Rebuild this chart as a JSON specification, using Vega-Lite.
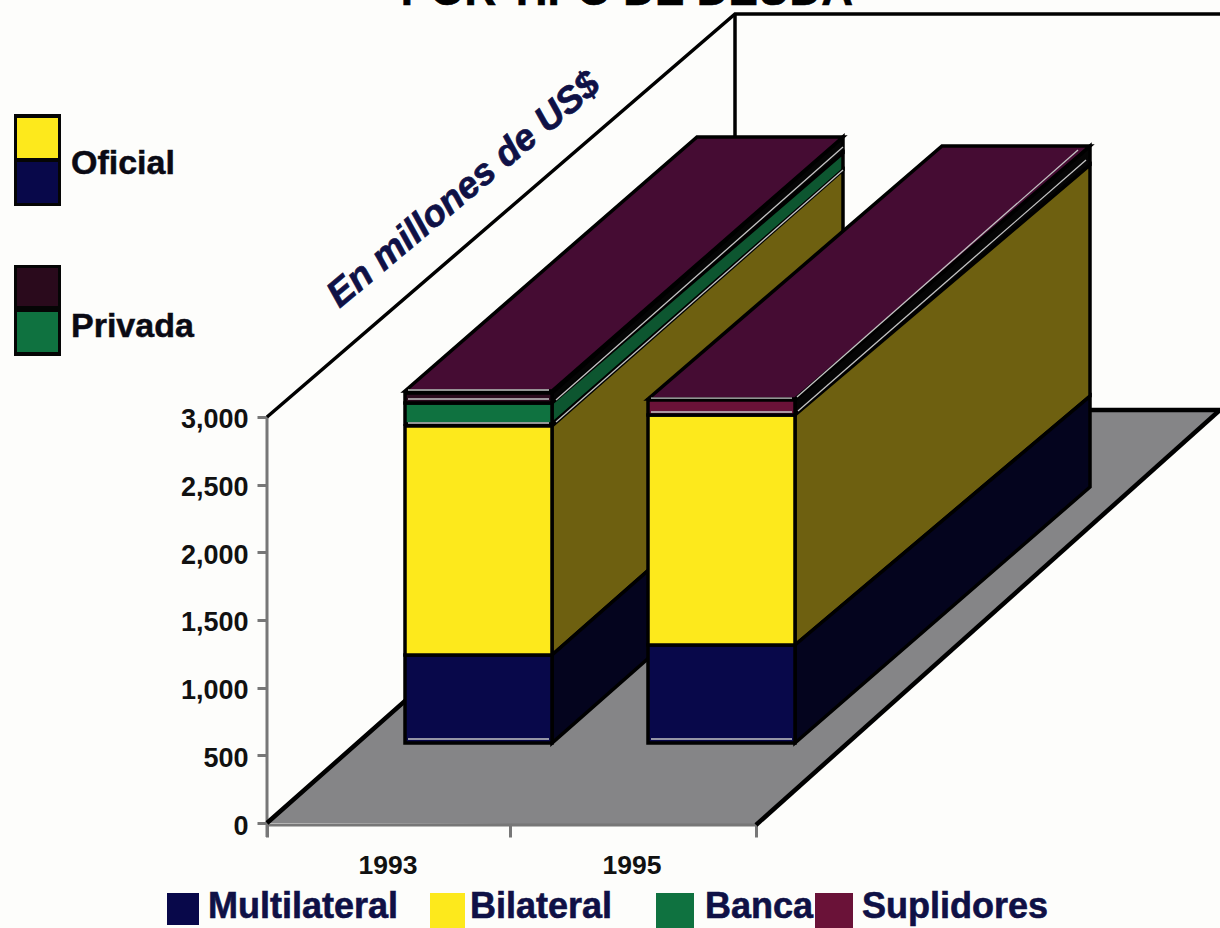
{
"$schema":"https://vega.github.io/schema/vega-lite/v6.json",
"width":1220,"height":928,"padding":0,"autosize":{"type":"none"},
"background":"#fdfdfb",
"config":{"view":{"stroke":null},"axis":{"grid":false,"title":null}},
"encoding":{
 "x":{"field":"x","type":"quantitative","scale":{"domain":[0,1220],"nice":false,"zero":false},
  "axis":{"values":[267,510,756],"labels":false,"offset":-103,"domain":false,"tickSize":12,"tickWidth":3,"tickColor":"#777777","title":null}},
 "y":{"field":"y","type":"quantitative","scale":{"domain":[-775.8,6081.1],"nice":false,"zero":false},
  "axis":{"values":[0,500,1000,1500,2000,2500,3000],"format":",.0f","offset":-267,"domain":false,"tickSize":10,"tickWidth":3,"tickColor":"#777777","labelFont":"Liberation Sans","labelFontWeight":"bold","labelFontSize":27,"labelColor":"#111111","labelPadding":9,"labelOffset":3,"title":null}}
},
"layer":[
{"data":{"values":[
 {"poly":"piso","x":267,"y":0,"y2":0},
 {"poly":"piso","x":734,"y":3051.7,"y2":-14.8},
 {"poly":"piso","x":756,"y":3051.7,"y2":-14.8},
 {"poly":"piso","x":1220,"y":3051.7,"y2":3051.7}]},
 "mark":{"type":"area","color":"#858587"},
 "encoding":{"y2":{"field":"y2"},"detail":{"field":"poly"}}},
{"data":{"values":[
 {"seg":"eje y","x":267,"y":3000},{"seg":"eje y","x":267.01,"y":-103},
 {"seg":"eje x","x":267,"y":-14.8},{"seg":"eje x","x":756,"y":-14.8}]},
 "mark":{"type":"line","color":"#777777","strokeWidth":3},
 "encoding":{"detail":{"field":"seg"}}},
{"data":{"values":[
 {"seg":"pared","x":267,"y":3000},{"seg":"pared","x":735,"y":5977.7},{"seg":"pared","x":1220,"y":5977.7},
 {"seg":"vertical","x":735,"y":5977.7},{"seg":"vertical","x":735.01,"y":5068.9}]},
 "mark":{"type":"line","color":"#000000","strokeWidth":3.5},
 "encoding":{"detail":{"field":"seg"}}},
{"data":{"values":[
 {"seg":"piso izq","x":267,"y":0},{"seg":"piso izq","x":734,"y":3051.7},{"seg":"piso izq","x":1220,"y":3051.7},
 {"seg":"piso der","x":756,"y":-14.8},{"seg":"piso der","x":1220,"y":3051.7}]},
 "mark":{"type":"line","color":"#000000","strokeWidth":4.5},
 "encoding":{"detail":{"field":"seg"}}},
{"data":{"values":[
 {"poly":"b1a","part":"negro","x":552,"y":3177.3,"y2":3103.4},{"poly":"b1a","part":"negro","x":843,"y":5068.9,"y2":4950.6},
 {"poly":"b1b","part":"verde lado","x":552,"y":3103.4,"y2":2948.2},{"poly":"b1b","part":"verde lado","x":843,"y":4950.6,"y2":4825.0},
 {"poly":"b1c","part":"oliva","x":552,"y":2933.4,"y2":1241.4},{"poly":"b1c","part":"oliva","x":843,"y":4825.0,"y2":3132.9},
 {"poly":"b1d","part":"azul lado","x":552,"y":1241.4,"y2":591.1},{"poly":"b1d","part":"azul lado","x":843,"y":3132.9,"y2":2482.7},
 {"poly":"b1e","part":"tapa","x":405,"y":3192.0,"y2":3192.0},{"poly":"b1e","part":"tapa","x":552,"y":4137.8,"y2":3192.0},{"poly":"b1e","part":"tapa","x":697,"y":5068.9,"y2":4127.5},{"poly":"b1e","part":"tapa","x":843,"y":5068.9,"y2":5068.9},
 {"poly":"b1f","part":"Multilateral","x":405,"y":1241.4,"y2":591.1},{"poly":"b1f","part":"Multilateral","x":552,"y":1241.4,"y2":591.1},
 {"poly":"b1g","part":"Bilateral","x":405,"y":2933.4,"y2":1241.4},{"poly":"b1g","part":"Bilateral","x":552,"y":2933.4,"y2":1241.4},
 {"poly":"b1h","part":"Banca","x":405,"y":3103.4,"y2":2948.2},{"poly":"b1h","part":"Banca","x":552,"y":3103.4,"y2":2948.2},
 {"poly":"b1i","part":"marron","x":405,"y":3177.3,"y2":3103.4},{"poly":"b1i","part":"marron","x":552,"y":3177.3,"y2":3103.4},
 {"poly":"b2a","part":"negro","x":795,"y":3125.5,"y2":3014.7},{"poly":"b2a","part":"negro","x":1090,"y":5002.4,"y2":4862.0},
 {"poly":"b2c","part":"oliva","x":795,"y":3014.7,"y2":1315.2},{"poly":"b2c","part":"oliva","x":1090,"y":4862.0,"y2":3154},
 {"poly":"b2d","part":"azul lado","x":795,"y":1315.2,"y2":591.1},{"poly":"b2d","part":"azul lado","x":1090,"y":3154,"y2":2482.7},
 {"poly":"b2e","part":"tapa","x":648,"y":3132.9,"y2":3132.9},{"poly":"b2e","part":"tapa","x":795,"y":4067.7,"y2":3132.9},{"poly":"b2e","part":"tapa","x":942,"y":5002.4,"y2":4063.9},{"poly":"b2e","part":"tapa","x":1090,"y":5002.4,"y2":5002.4},
 {"poly":"b2f","part":"Multilateral","x":648,"y":1315.2,"y2":591.1},{"poly":"b2f","part":"Multilateral","x":795,"y":1315.2,"y2":591.1},
 {"poly":"b2g","part":"Bilateral","x":648,"y":3014.7,"y2":1315.2},{"poly":"b2g","part":"Bilateral","x":795,"y":3014.7,"y2":1315.2},
 {"poly":"b2i","part":"Suplidores","x":648,"y":3125.5,"y2":3014.7},{"poly":"b2i","part":"Suplidores","x":795,"y":3125.5,"y2":3014.7}
 ]},
 "mark":{"type":"area","stroke":"#000000","strokeWidth":3.5,"strokeJoin":"miter"},
 "encoding":{"y2":{"field":"y2"},"detail":{"field":"poly"},
  "fill":{"field":"part","type":"nominal","legend":null,"scale":{
   "domain":["Multilateral","Bilateral","Banca","Suplidores","tapa","oliva","azul lado","verde lado","negro","marron"],
   "range":["#08084a","#fde91c","#0f7240","#6a1238","#450c33","#6e6010","#04041e","#0d5630","#050505","#2a0a1c"]}}}},
{"data":{"values":[
 {"seg":"h1","x":408,"y":3199.4},{"seg":"h1","x":549,"y":3199.4},
 {"seg":"h2","x":408,"y":3132.9},{"seg":"h2","x":549,"y":3132.9},
 {"seg":"h3","x":408,"y":2955.6},{"seg":"h3","x":549,"y":2955.6},
 {"seg":"h4","x":408,"y":620.7},{"seg":"h4","x":549,"y":620.7},
 {"seg":"h5","x":651,"y":3139},{"seg":"h5","x":792,"y":3139},
 {"seg":"h6","x":651,"y":3036.9},{"seg":"h6","x":792,"y":3036.9},
 {"seg":"h7","x":651,"y":620.7},{"seg":"h7","x":792,"y":620.7},
 {"seg":"h8","x":556,"y":3125.5},{"seg":"h8","x":843,"y":4995},
 {"seg":"h9","x":556,"y":2963},{"seg":"h9","x":843,"y":4825},
 {"seg":"h10","x":798,"y":3044.3},{"seg":"h10","x":1086,"y":4899},
 {"seg":"h11","x":797,"y":3147.7},{"seg":"h11","x":1078,"y":4972.8}]},
 "mark":{"type":"line","color":"#c4c4c4","strokeWidth":1.3},
 "encoding":{"detail":{"field":"seg"}}},
{"data":{"values":[
 {"part":"negro","x":14,"x2":61,"y":5238.8,"y2":4559.0},
 {"part":"Bilateral","x":17,"x2":58,"y":5209.2,"y2":4913.7},
 {"part":"Multilateral","x":17,"x2":58,"y":4884.1,"y2":4581.2},
 {"part":"negro","x":14,"x2":61,"y":4123.1,"y2":3450.7},
 {"part":"marron","x":17,"x2":58,"y":4100.9,"y2":3820.1},
 {"part":"Banca","x":17,"x2":58,"y":3775.8,"y2":3480.2},
 {"part":"Multilateral","x":167,"x2":199,"y":-517.2,"y2":-753.7},
 {"part":"Bilateral","x":430,"x2":465,"y":-517.2,"y2":-775.8},
 {"part":"Banca","x":656,"x2":694,"y":-517.2,"y2":-775.8},
 {"part":"Suplidores","x":815,"x2":853,"y":-517.2,"y2":-775.8}]},
 "mark":{"type":"rect"},
 "encoding":{"x2":{"field":"x2"},"y2":{"field":"y2"},"fill":{"field":"part","type":"nominal","legend":null}}},
{"data":{"values":[{"label":"POR TIPO DE DEUDA","x":627,"y":6044.2}]},
 "mark":{"type":"text","font":"Liberation Sans","fontWeight":"bold","fontSize":44,"align":"center","baseline":"alphabetic","color":"#000000","stroke":"#000000","strokeWidth":0.6},
 "encoding":{"text":{"field":"label"}}},
{"data":{"values":[{"label":"En millones de US$","x":464,"y":4677}]},
 "mark":{"type":"text","font":"Liberation Sans","fontWeight":"bold","fontStyle":"italic","fontSize":37,"angle":320,"align":"center","baseline":"middle","color":"#0f1146","stroke":"#0f1146","strokeWidth":0.7},
 "encoding":{"text":{"field":"label"}}},
{"data":{"values":[{"label":"Oficial","x":71,"y":4795.5},{"label":"Privada","x":71,"y":3591}]},
 "mark":{"type":"text","font":"Liberation Sans","fontWeight":"bold","fontSize":34,"align":"left","baseline":"alphabetic","color":"#0a0a14","stroke":"#0a0a14","strokeWidth":0.5},
 "encoding":{"text":{"field":"label"}}},
{"data":{"values":[{"label":"Multilateral","x":208,"y":-702},{"label":"Bilateral","x":470,"y":-702},{"label":"Banca","x":705,"y":-702},{"label":"Suplidores","x":862,"y":-702}]},
 "mark":{"type":"text","font":"Liberation Sans","fontWeight":"bold","fontSize":36,"align":"left","baseline":"alphabetic","color":"#0f1146","stroke":"#0f1146","strokeWidth":0.6},
 "encoding":{"text":{"field":"label"}}},
{"data":{"values":[{"label":"1993","x":388,"y":-317.7},{"label":"1995","x":632,"y":-317.7}]},
 "mark":{"type":"text","font":"Liberation Sans","fontWeight":"bold","fontSize":26.5,"align":"center","baseline":"middle","color":"#111111"},
 "encoding":{"text":{"field":"label"}}}
]
}
